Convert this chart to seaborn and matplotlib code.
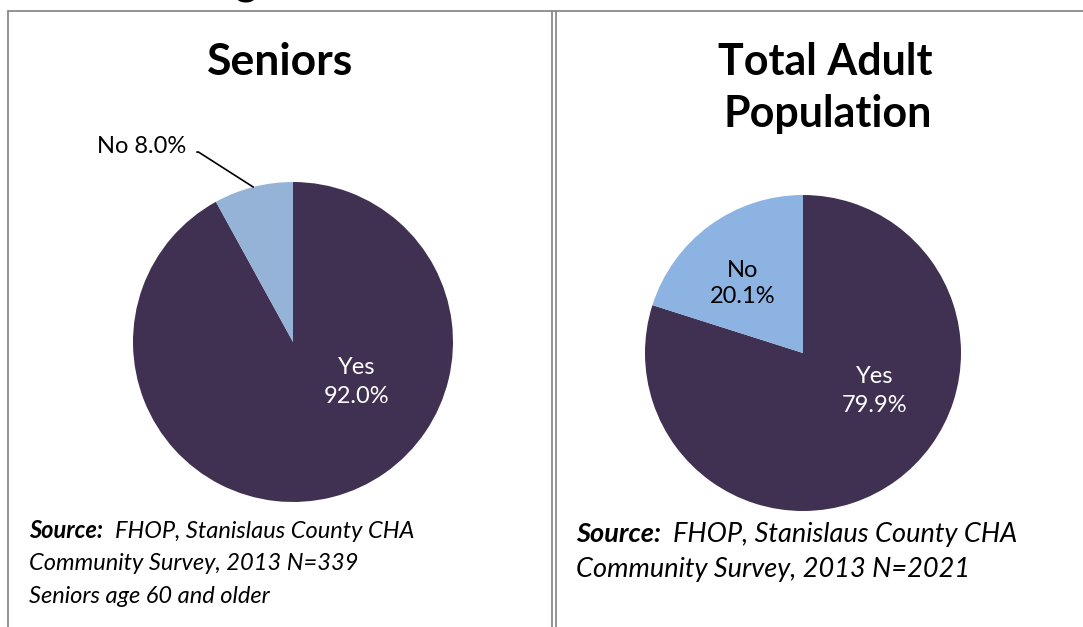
import numpy as np
import matplotlib
matplotlib.use("Agg")
import matplotlib.pyplot as plt
import seaborn as sns
from matplotlib.lines import Line2D

# data
labels = ["Yes", "No"]
seniors = [92.0, 8.0]
adults = [79.9, 20.1]
titles = ["Seniors", "Total Adult\nPopulation"]
source_lines = [
    ["FHOP, Stanislaus County CHA", "Community Survey, 2013 N=339", "Seniors age 60 and older"],
    ["FHOP, Stanislaus County CHA", "Community Survey, 2013 N=2021"],
]

sns.set_theme(style="white")
plt.rcParams['font.family'] = ['Lato', 'DejaVu Sans']
plt.rcParams['text.color'] = 'black'

W, H = 1083, 627
fig = plt.figure(figsize=(W / 100, H / 100), dpi=100)
fig.patch.set_facecolor("white")

def fx(x):
    return x / W

def fy(y):
    return 1 - y / H

dark = "#403152"
light_left = "#95B3D7"
light_right = "#8DB3E2"
grey = "#8a8a8a"

# panel borders
for seg in [((8, 8), (10.5, 627)), ((8, 1083), (10.5, 10.5)),
            ((552, 552), (10.5, 627)), ((556, 556), (10.5, 627))]:
    fig.add_artist(Line2D([fx(v) for v in seg[0]], [fy(v) for v in seg[1]],
                          color=grey, lw=1.3))

# heading of the page, cut off at the top edge as in the original
fig.text(fx(258), fy(-5), "ng", fontsize=30, fontweight="bold", ha="right", va="baseline")

def make_pie(cx, cy, r, values, light):
    ax = fig.add_axes([fx(cx - r), fy(cy + r), 2 * r / W, 2 * r / H])
    wedges, _ = ax.pie(values, colors=[dark, light], startangle=90, counterclock=False,
                       radius=1, wedgeprops=dict(linewidth=0))
    ax.set_xlim(-1, 1)
    ax.set_ylim(-1, 1)
    ax.set_aspect("equal")
    ax.axis("off")
    return ax, wedges

lab_size = 17

# left: seniors
ax1, w1 = make_pie(293, 342, 160, seniors, light_left)
ax1.text(0.40, -0.25, f"{labels[0]}\n{seniors[0]:.1f}%", color="white", fontsize=lab_size,
         ha="center", va="center", linespacing=1.42)
mid = np.deg2rad((w1[1].theta1 + w1[1].theta2) / 2)
ax1.annotate(f"{labels[1]} {seniors[1]:.1f}%", xy=(np.cos(mid), np.sin(mid)),
             xytext=(-0.665, 1.22), fontsize=lab_size, ha="right", va="center",
             annotation_clip=False,
             arrowprops=dict(arrowstyle="-", color="black", lw=1.2, relpos=(1.0, 0.25),
                             shrinkA=5, shrinkB=0,
                             connectionstyle="angle,angleA=0,angleB=-32.6,rad=0"))

# right: total adult population
ax2, w2 = make_pie(803, 353, 158, adults, light_right)
ax2.text(0.456, -0.24, f"{labels[0]}\n{adults[0]:.1f}%", color="white", fontsize=lab_size,
         ha="center", va="center", linespacing=1.5)
ax2.text(-0.38, 0.44, f"{labels[1]}\n{adults[1]:.1f}%", color="black", fontsize=lab_size,
         ha="center", va="center", linespacing=1.3)

# titles
fig.text(fx(280), fy(75), titles[0], fontsize=32, fontweight="bold", ha="center", va="baseline")
fig.text(fx(825), fy(75), titles[1].split("\n")[0], fontsize=31, fontweight="bold",
         ha="center", va="baseline")
fig.text(fx(828), fy(127), titles[1].split("\n")[1], fontsize=31, fontweight="bold",
         ha="center", va="baseline")

# source notes
def source(x, y0, step, lines, size):
    t = fig.text(fx(x), fy(y0), "Source:", fontsize=size, fontweight="bold", style="italic",
                 ha="left", va="baseline")
    fig.canvas.draw()
    bb = t.get_window_extent()
    fig.text(bb.x1 / W + 0.011, fy(y0), lines[0], fontsize=size, style="italic",
             ha="left", va="baseline")
    for i, ln in enumerate(lines[1:], start=1):
        fig.text(fx(x), fy(y0 + i * step), ln, fontsize=size, style="italic",
                 ha="left", va="baseline")

source(29, 538, 32.5, source_lines[0], 17)
source(576, 542, 34.5, source_lines[1], 19.5)

fig.savefig("out.png", dpi=100, facecolor="white")
